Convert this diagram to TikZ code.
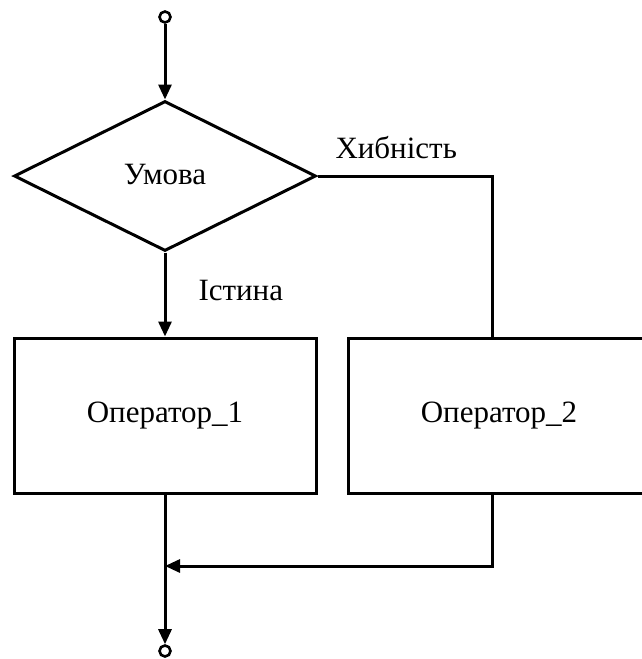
\documentclass[tikz,border=0pt]{standalone}
\usepackage{fontspec}
\setmainfont{Liberation Serif}
\usetikzlibrary{shapes.geometric,arrows.meta,calc}
\begin{document}
\begin{tikzpicture}[x=1pt,y=-1pt,
  line width=3pt,
  every node/.style={font=\fontsize{31}{35}\selectfont},
  arr/.style={-{Triangle[length=15pt,width=13pt]}},
  term/.style={circle,draw,line width=2.6pt,minimum size=11pt,inner sep=0pt},
  cond/.style={diamond,draw,minimum width=302pt,minimum height=150pt,inner sep=0pt},
  proc/.style={rectangle,draw,minimum width=302pt,minimum height=155pt,inner sep=0pt},
  lbl/.style={inner sep=0pt,anchor=base west}]
\useasboundingbox (0,0) rectangle (641,659);
\node[term] (start) at (165,17) {};
\node[cond] (c) at (165,176) {\raisebox{3pt}{Умова}};
\node[proc] (op1) at (165,415.5) {Оператор\_1};
\node[proc] (op2) at (499,415.5) {Оператор\_2};
\node[term] (end) at (165,651) {};
\coordinate (b2t) at (492,338);
\coordinate (b2b) at (492,493);
\coordinate (j) at (165,566);
\draw[arr] (start) -- (c.north);
\draw[arr] (c.south) -- (op1.north);
\draw (c.east) -| (b2t);
\draw[arr] (op1.south) -- (end);
\draw[arr] (b2b) |- (j);
\node[lbl] (f) at (334,158) {Хибність};
\node[lbl] (t) at (197,300) {Істина};
\end{tikzpicture}
\end{document}
